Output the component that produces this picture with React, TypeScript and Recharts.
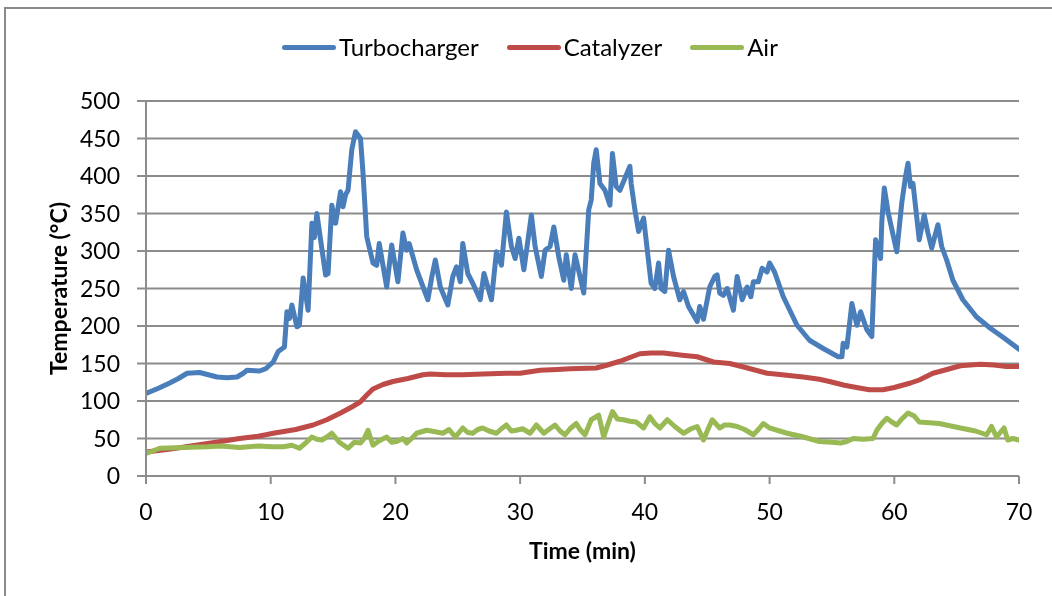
import React from 'react';
import { LineChart, Line, XAxis, YAxis, CartesianGrid, Label } from 'recharts';

// time (min) / temperature (°C) readings per sensor
const turboTime = [0, 1.0, 1.9, 2.6, 3.3, 4.3, 5.0, 5.7, 6.5, 7.3, 7.8, 8.1, 9.1, 9.6, 10.2, 10.6, 11.1, 11.3, 11.5, 11.7, 12.1, 12.3, 12.6, 13.0, 13.3, 13.5, 13.7, 14.4, 14.6, 14.9, 15.2, 15.6, 15.8, 16.0, 16.2, 16.5, 16.8, 17.2, 17.4, 17.7, 18.2, 18.5, 18.7, 19.3, 19.7, 20.2, 20.6, 20.9, 21.1, 21.7, 22.6, 22.9, 23.2, 23.6, 24.2, 24.6, 24.9, 25.2, 25.4, 25.8, 26.2, 26.8, 27.1, 27.7, 28.1, 28.5, 28.9, 29.3, 29.6, 29.9, 30.3, 30.9, 31.2, 31.7, 32.0, 32.4, 32.7, 33.1, 33.5, 33.7, 34.1, 34.4, 35.1, 35.5, 35.7, 35.9, 36.1, 36.4, 36.8, 37.2, 37.4, 37.7, 38.0, 38.4, 38.8, 38.9, 39.2, 39.5, 39.9, 40.5, 40.8, 41.1, 41.3, 41.6, 41.9, 42.3, 42.8, 43.1, 43.5, 44.2, 44.4, 44.7, 45.2, 45.6, 45.8, 46.0, 46.3, 46.6, 47.1, 47.4, 47.8, 48.2, 48.5, 48.7, 49.1, 49.4, 49.8, 50.0, 50.4, 51.1, 52.2, 53.2, 54.3, 55.5, 55.8, 55.9, 56.2, 56.6, 57.0, 57.3, 57.8, 58.2, 58.5, 58.9, 59.0, 59.2, 59.5, 60.2, 60.6, 60.9, 61.1, 61.3, 61.5, 62.0, 62.4, 62.7, 63.0, 63.5, 63.8, 64.2, 64.7, 65.5, 66.6, 67.7, 68.8, 70.0];
const turboTemp = [110, 117, 124, 130, 137, 138, 135, 132, 131, 132, 137, 141, 140, 143, 152, 166, 172, 219, 210, 228, 199, 201, 264, 221, 337, 318, 350, 268, 270, 361, 337, 379, 359, 375, 381, 435, 459, 450, 404, 319, 284, 281, 310, 252, 308, 259, 324, 301, 310, 275, 235, 264, 288, 252, 228, 266, 279, 259, 310, 270, 257, 235, 270, 235, 299, 281, 352, 306, 290, 317, 275, 348, 306, 266, 301, 306, 332, 292, 261, 295, 250, 295, 244, 355, 368, 417, 435, 390, 381, 361, 430, 386, 381, 397, 413, 390, 355, 326, 344, 257, 250, 284, 250, 246, 301, 266, 235, 246, 226, 206, 226, 209, 252, 266, 268, 244, 241, 250, 221, 266, 235, 252, 239, 259, 259, 277, 272, 284, 272, 239, 201, 181, 170, 159, 159, 177, 172, 230, 201, 219, 195, 186, 315, 290, 339, 384, 352, 299, 364, 399, 417, 386, 390, 315, 348, 324, 304, 335, 306, 288, 261, 235, 212, 197, 184, 169];

const catalyzerTime = [0, 2, 4, 6, 7.5, 9, 10.2, 12, 13.4, 14.5, 15.6, 16.5, 17.2, 17.7, 18.2, 19, 19.8, 21, 22.2, 22.8, 24, 25.4, 27, 28.9, 30, 31.6, 33, 34, 36.1, 37, 38, 39.6, 40.5, 41.5, 43, 44.2, 45.5, 46.8, 48, 49.8, 51, 52.7, 54, 54.8, 56, 57.3, 58, 59.1, 60, 61.3, 62, 63.1, 64, 65.3, 66.9, 68, 69, 70];
const catalyzerTemp = [32, 36, 41, 46, 50, 53, 57, 62, 68, 75, 84, 92, 99, 108, 116, 122, 126, 130, 135, 136, 135, 135, 136, 137, 137, 141, 142, 143, 144, 148, 153, 163, 164, 164, 161, 159, 152, 150, 145, 137, 135, 132, 129, 126, 121, 117, 115, 115, 118, 124, 128, 137, 141, 147, 149, 148, 146, 146];

const airTime = [0, 0.5, 1.1, 3, 4.9, 6, 7.5, 9, 10.2, 11, 11.7, 12.3, 12.8, 13.3, 13.7, 14.1, 14.5, 14.9, 15.5, 16.2, 16.7, 17.2, 17.5, 17.8, 18.2, 18.7, 19.3, 19.7, 20.1, 20.6, 20.9, 21.3, 21.7, 22.5, 23.2, 23.8, 24.3, 24.8, 25.4, 25.8, 26.2, 26.6, 27.0, 27.5, 28.1, 28.5, 28.9, 29.3, 29.7, 30.2, 30.8, 31.3, 31.9, 32.3, 32.8, 33.2, 33.6, 34.0, 34.5, 34.8, 35.2, 35.7, 36.3, 36.7, 37.1, 37.4, 37.8, 38.3, 38.8, 39.3, 39.9, 40.4, 40.8, 41.2, 41.8, 42.4, 43.1, 43.7, 44.2, 44.7, 45.0, 45.4, 46.0, 46.4, 46.8, 47.4, 48.0, 48.7, 49.1, 49.5, 50.0, 51.4, 52.5, 54.0, 55.0, 55.7, 56.2, 56.7, 57.5, 58.3, 58.6, 59.0, 59.4, 59.8, 60.2, 60.6, 61.1, 61.6, 62.0, 63.6, 65.3, 66.5, 67.4, 67.8, 68.2, 68.5, 68.8, 69.1, 69.5, 70];
const airTemp = [30, 33, 37, 38, 39, 40, 38, 40, 39, 39, 41, 37, 44, 52, 49, 48, 52, 57, 45, 37, 45, 44, 50, 61, 41, 47, 52, 45, 46, 50, 44, 50, 57, 61, 59, 57, 62, 52, 64, 58, 57, 62, 64, 60, 57, 63, 68, 60, 61, 63, 57, 68, 57, 62, 68, 60, 55, 63, 70, 62, 55, 75, 81, 52, 72, 86, 76, 75, 73, 72, 64, 79, 70, 64, 75, 66, 57, 63, 66, 48, 60, 75, 64, 68, 68, 66, 62, 55, 62, 70, 64, 57, 53, 46, 45, 44, 46, 50, 49, 50, 61, 70, 77, 72, 68, 76, 84, 80, 72, 70, 64, 60, 55, 66, 52, 58, 64, 48, 50, 48];

const xTicks = [0, 10, 20, 30, 40, 50, 60, 70];
const yTicks = [0, 50, 100, 150, 200, 250, 300, 350, 400, 450, 500];

const series = [
  { name: 'Turbocharger', color: '#4a7ebb', time: turboTime, temp: turboTemp },
  { name: 'Catalyzer', color: '#be4b48', time: catalyzerTime, temp: catalyzerTemp },
  { name: 'Air', color: '#98b954', time: airTime, temp: airTemp },
];

const toPoints = (time: number[], temp: number[]) => time.map((t, i) => ({ t, v: temp[i] }));

const FONT = 'Lato, "Liberation Sans", sans-serif';
const GRID = '#8c8c8c';

const LegendRow = () => (
  <div
    style={{
      position: 'absolute',
      left: 274,
      top: 24,
      display: 'flex',
      alignItems: 'center',
      fontFamily: FONT,
      fontSize: 24,
      lineHeight: '30px',
      color: '#000',
    }}
  >
    {series.map((s) => (
      <div key={s.name} style={{ display: 'flex', alignItems: 'center', marginRight: 28 }}>
        <div style={{ width: 54, height: 5, borderRadius: 3, background: s.color, marginRight: 3 }} />
        <span>{s.name}</span>
      </div>
    ))}
  </div>
);

export default function App() {
  return (
    <div style={{ position: 'relative', width: 1044, height: 580, fontFamily: FONT }}>
      {/* chart-area frame; only its left and top edges fall inside the page */}
      <div
        style={{
          position: 'fixed',
          left: 4,
          top: 7,
          width: 1200,
          height: 800,
          borderLeft: '2px solid #8a8a8a',
          borderTop: '2px solid #8a8a8a',
          boxSizing: 'border-box',
          pointerEvents: 'none',
        }}
      />
      <LegendRow />
      <LineChart width={1044} height={580} margin={{ top: 93, right: 33, left: 58, bottom: 52 }}>
        <CartesianGrid vertical={false} stroke={GRID} strokeWidth={2} />
        <XAxis
          type="number"
          dataKey="t"
          domain={[0, 70]}
          ticks={xTicks}
          height={60}
          allowDataOverflow
          stroke={GRID}
          strokeWidth={2}
          tickSize={8}
          tickMargin={20}
          tick={{ fill: '#000', fontSize: 23, fontFamily: FONT }}
        >
          <Label
            content={({ viewBox }: any) => (
              <text
                x={viewBox.x + viewBox.width / 2}
                y={viewBox.y + 83}
                textAnchor="middle"
                fontFamily={FONT}
                fontWeight="bold"
                fontSize={23}
                fill="#000"
              >
                Time (min)
              </text>
            )}
          />
        </XAxis>
        <YAxis
          type="number"
          domain={[0, 500]}
          ticks={yTicks}
          width={80}
          stroke={GRID}
          strokeWidth={2}
          tickSize={9}
          tickMargin={17}
          tick={{ fill: '#000', fontSize: 23, fontFamily: FONT }}
        >
          <Label
            content={({ viewBox }: any) => {
              const cx = 50;
              const cy = viewBox.y + viewBox.height / 2;
              return (
                <text
                  x={cx}
                  y={cy}
                  transform={`rotate(-90 ${cx} ${cy})`}
                  textAnchor="middle"
                  dominantBaseline="central"
                  fontFamily={FONT}
                  fontWeight="bold"
                  fontSize={23}
                  fill="#000"
                >
                  Temperature (°C)
                </text>
              );
            }}
          />
        </YAxis>
        {series.map((s) => (
          <Line
            key={s.name}
            name={s.name}
            data={toPoints(s.time, s.temp)}
            dataKey="v"
            type="linear"
            stroke={s.color}
            strokeWidth={5}
            strokeLinejoin="round"
            strokeLinecap="round"
            dot={false}
            activeDot={false}
            isAnimationActive={false}
          />
        ))}
      </LineChart>
    </div>
  );
}
